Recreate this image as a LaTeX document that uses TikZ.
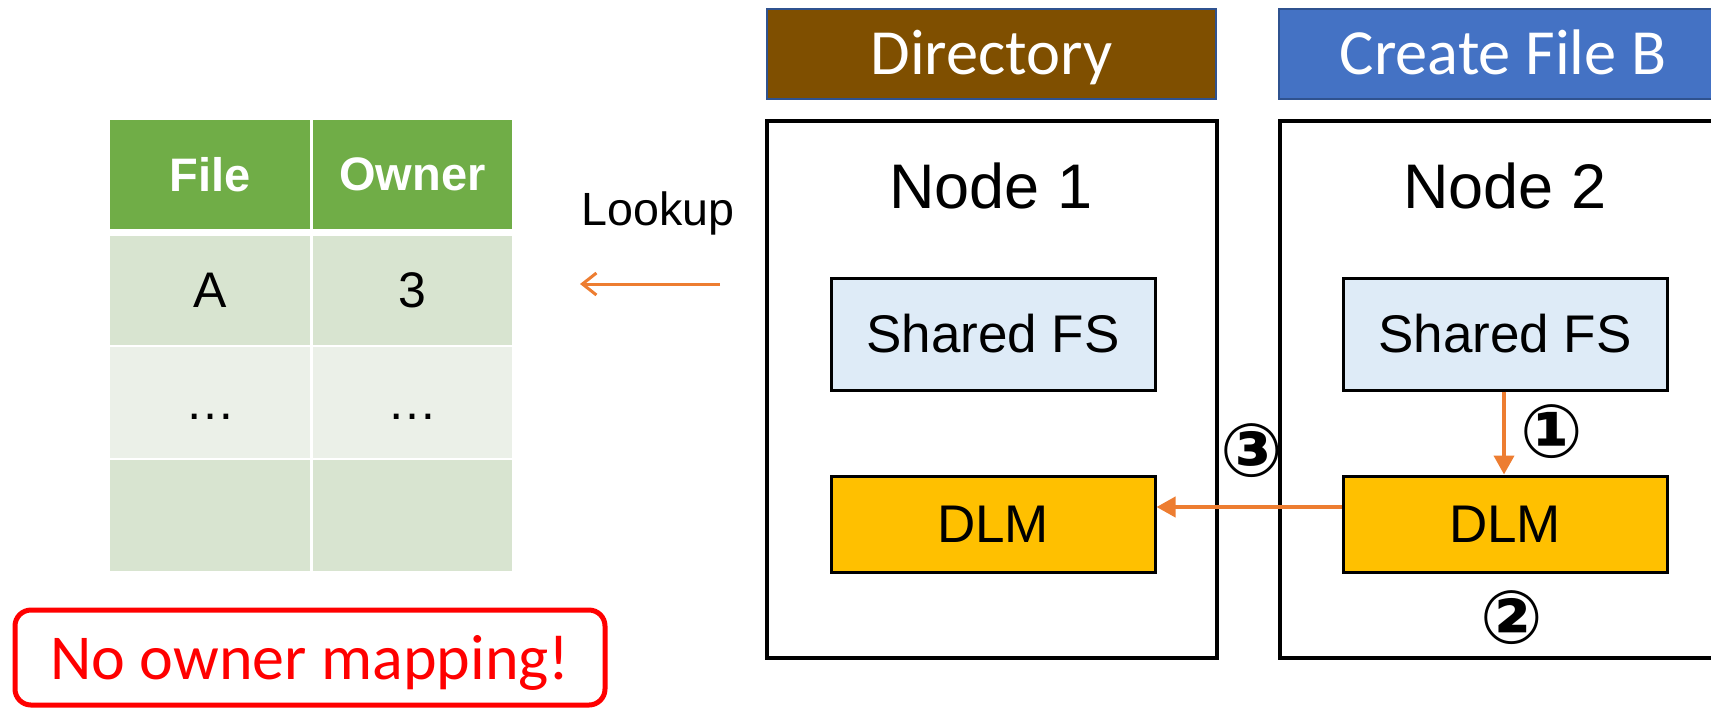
\documentclass[tikz,border=0pt]{standalone}
\usepackage{fontspec}
\setmainfont{Liberation Sans}
\newfontfamily\calibri{Carlito}
\newfontfamily\circfont{DejaVu Sans}
\usetikzlibrary{arrows.meta}

\definecolor{hdrgreen}{HTML}{70AD47}
\definecolor{rowdark}{HTML}{D8E4D0}
\definecolor{rowlight}{HTML}{EBF0E8}
\definecolor{dirbrown}{HTML}{7F4F00}
\definecolor{opblue}{HTML}{4472C4}
\definecolor{edgeblue}{HTML}{2F528F}
\definecolor{fsblue}{HTML}{DEEBF7}
\definecolor{dlmgold}{HTML}{FFC000}
\definecolor{flow}{HTML}{ED7D31}
\definecolor{alert}{HTML}{FF0000}

\tikzset{
  cell/.style={rectangle, inner sep=0pt, outer sep=0pt, minimum width=100pt},
  hdrcell/.style={cell, fill=hdrgreen, minimum height=54.5pt, text=white,
    font=\fontsize{23.5}{28}\selectfont\bfseries},
  bodycell/.style={cell, minimum height=55pt, font=\fontsize{25}{30}\selectfont},
  header/.style={rectangle, draw=edgeblue, line width=1pt, inner sep=0pt,
    minimum width=224.5pt, minimum height=45pt, text=white,
    text height=20pt, text depth=0pt,
    font=\calibri\fontsize{32.2}{38}\selectfont},
  hostbox/.style={rectangle, draw=black, line width=2pt, inner sep=0pt,
    minimum width=225pt, minimum height=268.5pt},
  hostlabel/.style={anchor=base, inner sep=0pt, font=\fontsize{31.5}{38}\selectfont},
  unit/.style={rectangle, draw=black, line width=1.5pt, inner sep=0pt,
    minimum width=162pt, font=\fontsize{26.5}{31}\selectfont},
  fsbox/.style={unit, fill=fsblue, minimum height=56pt},
  dlmbox/.style={unit, fill=dlmgold, minimum height=48pt},
  flowarrow/.style={draw=flow, line width=2pt,
    -{Triangle[length=9.5pt,width=10pt]}},
  stepnum/.style={inner sep=0pt, font=\circfont\bfseries\fontsize{37}{44}\selectfont},
}

\begin{document}
\begin{tikzpicture}[x=0.5pt,y=-0.5pt]
\clip (0,0) rectangle (1711,707);

% ownership table
\node[hdrcell] (hFile)  at (210,174.5)   {File};
\node[hdrcell, minimum width=99.5pt] (hOwner) at (412.5,174.5) {Owner};
\node[bodycell, fill=rowdark, minimum height=54.5pt] (aFile)  at (210,290.5) {A};
\node[bodycell, fill=rowdark, minimum height=54.5pt, minimum width=99.5pt] (aOwner) at (412.5,290.5) {3};
\node[bodycell, fill=rowlight, minimum height=55.5pt] (dFile)  at (210,402.5) {…\vphantom{A}};
\node[bodycell, fill=rowlight, minimum height=55.5pt, minimum width=99.5pt] (dOwner) at (412.5,402.5) {…\vphantom{A}};
\node[bodycell, fill=rowdark, minimum height=55.5pt] (eFile)  at (210,515.5) {};
\node[bodycell, fill=rowdark, minimum height=55.5pt, minimum width=99.5pt] (eOwner) at (412.5,515.5) {};

% lookup
\node[anchor=base, inner sep=0pt, font=\fontsize{23.3}{28}\selectfont] (lookup) at (658,225) {Lookup};
\coordinate (lookFrom) at (720,284);
\coordinate (lookTo) at (580,284);
\draw[draw=flow, line width=1.5pt, -{Straight Barb[length=7pt,width=11pt]}] (lookFrom) -- (lookTo);

% warning
\node[rectangle, rounded corners=8pt, draw=alert, line width=2.5pt, text=alert,
  minimum width=295pt, minimum height=47.5pt, inner sep=0pt,
  text height=21.5pt, text depth=0pt,
  font=\calibri\fontsize{32}{38}\selectfont] (warn) at (310,657.5) {No owner mapping!};

% role headers
\node[header, fill=dirbrown] (dir) at (991.5,54) {Directory};
\node[header, fill=opblue] (create) at (1503,54) {Create File B};

% hosts
\node[hostbox] (host1) at (992,389.5) {};
\node[hostbox] (host2) at (1505,389.5) {};
\node[hostlabel] (lab1) at (991,208) {Node 1};
\node[hostlabel] (lab2) at (1505,208) {Node 2};

\node[fsbox] (fs1) at (993,334) {Shared FS};
\node[fsbox] (fs2) at (1505,334) {Shared FS};
\node[dlmbox] (dlm1) at (993,524) {DLM};
\node[dlmbox] (dlm2) at (1505,524) {DLM};

% steps
\draw[flowarrow] (fs2.south -| 1504,0) -- (dlm2.north -| 1504,0);
\draw[flowarrow] ([yshift=8.5pt]dlm2.west) -- ([yshift=8.5pt]dlm1.east);
\node[stepnum] (s1) at (1552,432) {①};
\node[stepnum] (s2) at (1512,618) {②};
\node[stepnum] (s3) at (1252,451) {③};
\end{tikzpicture}
\end{document}
